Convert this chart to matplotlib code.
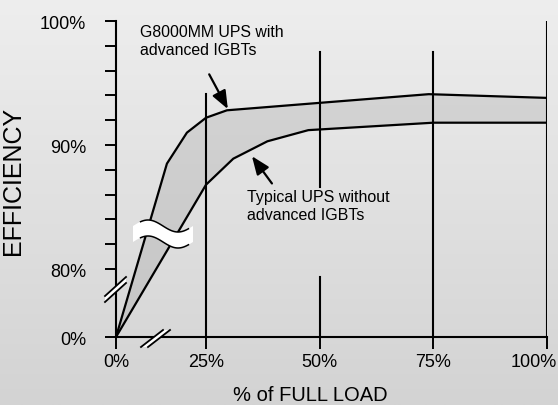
import numpy as np
import matplotlib
matplotlib.use("Agg")
import matplotlib.pyplot as plt
from matplotlib.patches import Polygon

plt.rcParams['font.family'] = ['Liberation Sans', 'DejaVu Sans']

# data (load %, efficiency %)
load_g8000 = [0, 16.4, 20.8, 25, 29.6, 50, 74, 100]
eff_g8000 = [0, 88.5, 91.0, 92.2, 92.8, 93.4, 94.1, 93.8]
load_typical = [0, 25, 31, 38.5, 47.5, 75, 100]
eff_typical = [0, 86.8, 88.9, 90.3, 91.2, 91.8, 91.8]

x_ticks = [0, 25, 50, 75, 100]
x_labels = ['0%', '25%', '50%', '75%', '100%']
y_ticks = [0, 80, 90, 100]
y_labels = ['0%', '80%', '90%', '100%']
y_minor = [82, 84, 86, 88, 92, 94, 96, 98]


# broken axes: squeeze the low part of each axis
def fx(x):
    x = np.asarray(x, dtype=float)
    return np.where(x >= 10, x, 5.2 + x * 0.48)


def fx_inv(u):
    u = np.asarray(u, dtype=float)
    return np.where(u >= 10, u, (u - 5.2) / 0.48)


def fy(y):
    y = np.asarray(y, dtype=float)
    return np.where(y >= 80, y, 74.52 + y * 0.0685)


def fy_inv(u):
    u = np.asarray(u, dtype=float)
    return np.where(u >= 80, u, (u - 74.52) / 0.0685)


fig = plt.figure(figsize=(5.58, 4.06), dpi=100)

# gradient background
bg = fig.add_axes([0, 0, 1, 1], zorder=-10)
grad = np.linspace(238, 211, 256)[:, None] / 255.0
bg.imshow(np.dstack([grad, grad, grad]), aspect='auto', extent=[0, 1, 0, 1])
bg.axis('off')

ax = fig.add_axes([116 / 558, 68 / 406, 431 / 558, 316 / 406])
ax.set_facecolor('none')
ax.set_xscale('function', functions=(fx, fx_inv))
ax.set_yscale('function', functions=(fy, fy_inv))
ax.set_xlim(0, 100)
ax.set_ylim(0, 100)

# shaded band between the two curves
ax.fill(np.concatenate([load_g8000, load_typical[::-1]]),
        np.concatenate([eff_g8000, eff_typical[::-1]]),
        color='black', alpha=0.085, lw=0, zorder=1)
ax.plot(load_g8000, eff_g8000, color='black', lw=1.6, zorder=3)
ax.plot(load_typical, eff_typical, color='black', lw=1.6, zorder=3)

# vertical grid segments
ax.axvline(25, ymin=0, ymax=0.769, color='black', lw=1.5, zorder=2)
ax.axvline(50, ymin=0.475, ymax=0.902, color='black', lw=1.5, zorder=2)
ax.axvline(50, ymin=0, ymax=0.19, color='black', lw=1.5, zorder=2)
ax.axvline(75, ymin=0, ymax=0.902, color='black', lw=1.5, zorder=2)
ax.axvline(100, ymin=0, ymax=1, color='black', lw=1.5, zorder=2)

for s in ['top', 'right']:
    ax.spines[s].set_visible(False)
for s in ['left', 'bottom']:
    ax.spines[s].set_linewidth(1.5)

ax.set_xticks(x_ticks)
# last label sits flush with the right edge, drawn separately below
ax.set_xticklabels(x_labels[:-1] + [''])
ax.set_yticks(y_ticks)
ax.set_yticklabels(y_labels)
ax.set_yticks(y_minor, minor=True)
ax.xaxis.set_minor_locator(matplotlib.ticker.NullLocator())
ax.tick_params(axis='x', length=8.5, width=1.4, pad=3, labelsize=13)
ax.tick_params(axis='y', which='both', length=8, width=1.4, pad=13.5, labelsize=13)
ax.text(1.0 + 10 / 431, -(12 + 4.5) / 316, x_labels[-1], transform=ax.transAxes,
        fontsize=13, ha='right', va='top')

ax.set_xlabel('% of FULL LOAD', fontsize=14.5)
ax.xaxis.set_label_coords(0.452, -0.152)
ax.set_ylabel('EFFICIENCY', fontsize=18)
ax.yaxis.set_label_coords(-0.212, 0.497)

# labels and arrows
ax.text(0.056, 0.99, 'G8000MM UPS with\nadvanced IGBTs', transform=ax.transAxes,
        fontsize=11.4, va='top', ha='left')
ax.text(0.304, 0.468, 'Typical UPS without\nadvanced IGBTs', transform=ax.transAxes,
        fontsize=11.5, va='top', ha='left')
arrow = dict(arrowstyle='-|>,head_length=0.55,head_width=0.22', lw=1.6,
             color='black', shrinkA=0, shrinkB=0, mutation_scale=20)
ax.annotate('', xy=(29.8, 92.9), xytext=(25.7, 95.7), arrowprops=arrow)
ax.annotate('', xy=(35.1, 89.1), xytext=(39.5, 86.9), arrowprops=arrow)


# break marks, drawn in pixel-ish positions converted to axes fractions
def px(x, y):
    return ((x - 116) / 431, (338 - y) / 316)


def slash(p1, p2, off):
    a = px(*p1)
    b = px(*p2)
    c = px(p2[0] + off[0], p2[1] + off[1])
    d = px(p1[0] + off[0], p1[1] + off[1])
    ax.add_patch(Polygon([a, b, c, d], closed=True, facecolor='white',
                         edgecolor='none', transform=ax.transAxes,
                         clip_on=False, zorder=5))
    ax.plot([a[0], b[0]], [a[1], b[1]], color='black', lw=1.3,
            transform=ax.transAxes, clip_on=False, zorder=6)
    ax.plot([d[0], c[0]], [d[1], c[1]], color='black', lw=1.3,
            transform=ax.transAxes, clip_on=False, zorder=6)


slash((105, 303), (126, 284), (0, -6))
slash((141, 348), (163, 331), (7, 0))

# wavy break across the curves
t = np.linspace(0, 1, 80)
wx = 133 + 60 * t
wtop = 227 - 6 * np.sin(2 * np.pi * t)
wbot = wtop + 16
top_pts = [px(a, b) for a, b in zip(wx, wtop)]
bot_pts = [px(a, b) for a, b in zip(wx, wbot)]
ax.add_patch(Polygon(top_pts + bot_pts[::-1], closed=True, facecolor='white',
                     edgecolor='none', transform=ax.transAxes, zorder=5))
sel = (t > 0.12) & (t < 0.93)
ax.plot([p[0] for p, s in zip(top_pts, sel) if s], [p[1] for p, s in zip(top_pts, sel) if s],
        color='black', lw=1.1, transform=ax.transAxes, zorder=6)
ax.plot([p[0] for p, s in zip(bot_pts, sel) if s], [p[1] for p, s in zip(bot_pts, sel) if s],
        color='black', lw=1.1, transform=ax.transAxes, zorder=6)

fig.savefig('out.png', dpi=100)
